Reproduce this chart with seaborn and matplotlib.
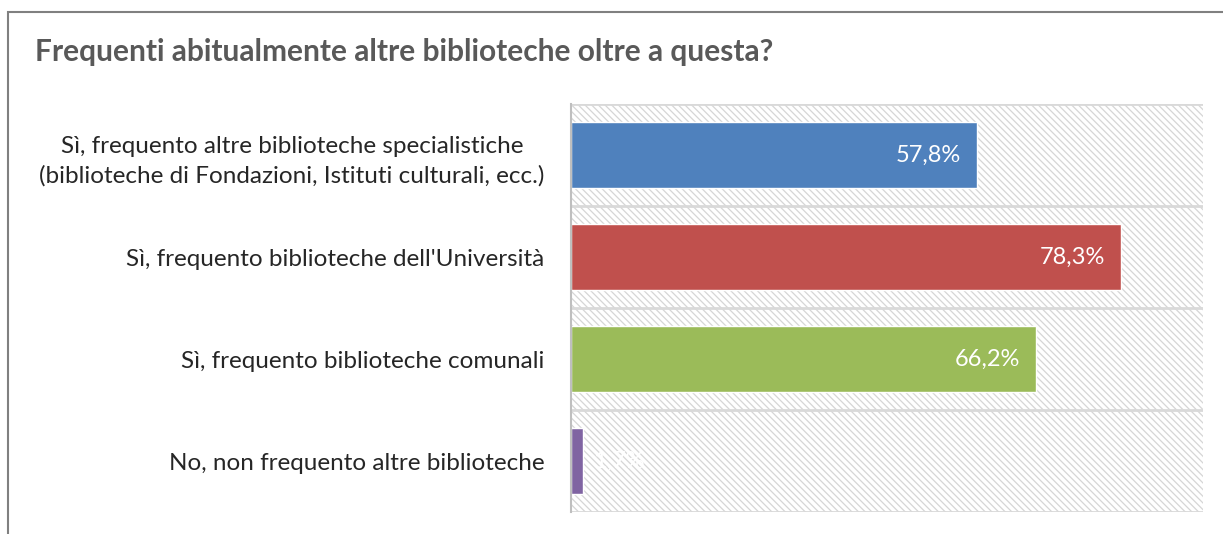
import matplotlib
matplotlib.use("Agg")
import matplotlib.pyplot as plt
import matplotlib.patches as mpatches
import seaborn as sns
import pandas as pd

categories = [
    "Sì, frequento altre biblioteche specialistiche\n(biblioteche di Fondazioni, Istituti culturali, ecc.)",
    "Sì, frequento biblioteche dell'Università",
    "Sì, frequento biblioteche comunali",
    "No, non frequento altre biblioteche",
]
values = [57.8, 78.3, 66.2, 1.7]
bar_colors = ["#4F81BD", "#C0504D", "#9BBB59", "#8064A2"]
title = "Frequenti abitualmente altre biblioteche oltre a questa?"

df = pd.DataFrame({"cat": categories, "val": values})

sns.set_style("white")
plt.rcParams["font.family"] = ["Lato", "DejaVu Sans"]
plt.rcParams["hatch.color"] = "#d6d6d6"
plt.rcParams["hatch.linewidth"] = 0.9

fig = plt.figure(figsize=(12.23, 5.34), dpi=100)
ax = fig.add_axes([571 / 1223, 1 - 512 / 534, (1203 - 571) / 1223, (512 - 104) / 534])

# hatched plot area background
bg = mpatches.Rectangle((0, 0), 1, 1, transform=ax.transAxes, facecolor="white",
                        edgecolor="#d6d6d6", hatch="\\" * 5, linewidth=0, zorder=0)
ax.add_patch(bg)

sns.barplot(data=df, x="val", y="cat", hue="cat", palette=bar_colors, legend=False,
            width=0.65, saturation=1, ax=ax, zorder=3)

ax.set_xlim(0, 90)
ax.set_ylim(3.5, -0.5)
for yb in [-0.5, 0.5, 1.5, 2.5, 3.5]:
    ax.axhline(yb, color="#d9d9d9", linewidth=2, zorder=2)

for s in ["top", "right", "bottom"]:
    ax.spines[s].set_visible(False)
ax.spines["left"].set_color("#bfbfbf")
ax.spines["left"].set_linewidth(1.5)
ax.spines["left"].set_zorder(4)

ax.set_xticks([])
ax.set_xlabel("")
ax.set_ylabel("")
ax.tick_params(axis="y", length=0, pad=19)
for lbl in ax.get_yticklabels():
    lbl.set_fontsize(17.5)
    lbl.set_color("#262626")
    lbl.set_multialignment("center")
    lbl.set_linespacing(1.45)

for i, v in enumerate(values):
    txt = f"{v:.1f}%".replace(".", ",")
    if v > 10:
        ax.text(v - 2.2, i, txt, ha="right", va="center",
                color="white", fontsize=17, zorder=5)
    else:
        ax.text(v + 1.4, i, txt, ha="left", va="center",
                color="white", fontsize=17, zorder=5)

fig.text(35 / 1223, 1 - 52 / 534, title, fontsize=21.5, fontweight="bold",
         color="#595959", ha="left", va="center")

# outer chart frame (extends past the right and bottom edges)
frame = mpatches.Rectangle((8 / 1223, -0.1), 1.2, 1 - 12 / 534 + 0.1,
                           transform=fig.transFigure, fill=False,
                           edgecolor="#808080", linewidth=1.5)
fig.patches.append(frame)

fig.savefig("out.png", dpi=100)
